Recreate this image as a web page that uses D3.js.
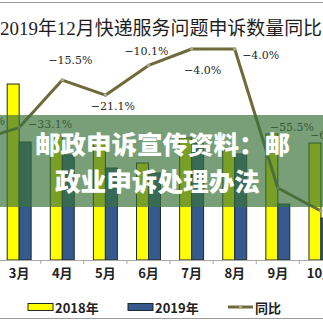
<!DOCTYPE html>
<html><head><meta charset="utf-8">
<script src="https://cdn.jsdelivr.net/npm/d3@7"></script>
<style>body{margin:0;background:#fff}svg{display:block}</style>
</head><body>
<script>
// ---- data ----
const months = ["2月","3月","4月","5月","6月","7月","8月","9月","10月"];
const seriesNames = ["2018年","2019年"];
const values2018 = [1500,1760,1240,1170,970,1220,1100,1260,1170];
const values2019 = [930,1180,1050,920,870,1170,1060,560,420];
const yoy = [-38.0,-33.1,-15.5,-21.1,-10.1,-4.0,-4.0,-55.5,-64.0];
const lineName = "同比";
const title = "2019年12月快递服务问题申诉数量同比图";
const bannerLines = ["邮政申诉宣传资料：邮","政业申诉处理办法"];

// ---- layout (label placement offsets) ----
const labelOffsets = [[29,-19,"end"],[31,-3,"middle"],[8,-20,"middle"],[7.5,11,"middle"],[-2,-14,"middle"],[11,21,"middle"],[26,6,"middle"],[14,-61,"middle"],[-11,-76,"start"]];

const W = 323, H = 323;
const svg = d3.select("body").append("svg").attr("width", W).attr("height", H)
  .style("background", "#fff");

const x = d3.scaleBand().domain(months).range([-45.5, 342.5]);
const xs = d3.scaleBand().domain(seriesNames).range([0, x.bandwidth()]).paddingOuter(0.8);
const y = d3.scaleLinear().domain([0, 2600]).range([260, 0]);
const yl = d3.scaleLinear().domain([0, -100]).range([38.2, 308.2]);
const colors = {"2018年": "#ffff00", "2019年": "#365a8e"};
const lineColor = "#6d6a3c";

// frame lines
svg.append("line").attr("x1",0).attr("x2",W).attr("y1",2.5).attr("y2",2.5).attr("stroke","#9a9a9a").attr("stroke-width",1.2);
svg.append("line").attr("x1",0).attr("x2",W).attr("y1",318.5).attr("y2",318.5).attr("stroke","#9a9a9a").attr("stroke-width",1.2);

// title
svg.append("text").attr("x", 0).attr("y", 35)
  .attr("textLength", 341).attr("lengthAdjust", "spacingAndGlyphs")
  .style("font-family", "'Liberation Serif','Noto Sans CJK SC'")
  .style("font-size", "19px").style("fill", "#1e1e1e")
  .text(title);

// bars
const rows = months.map((m, i) => ({m, vals: [values2018[i], values2019[i]]}));
const g = svg.append("g");
rows.forEach(r => {
  seriesNames.forEach((s, j) => {
    g.append("rect")
      .attr("x", x(r.m) + xs(s))
      .attr("y", y(r.vals[j]))
      .attr("width", xs.bandwidth())
      .attr("height", y(0) - y(r.vals[j]))
      .attr("fill", colors[s])
      .attr("stroke", "#1f2a2a").attr("stroke-width", 1);
  });
});

// axis
const axis = svg.append("g").attr("transform", "translate(0,260)")
  .call(d3.axisBottom(x).tickSize(0).tickPadding(9));
axis.select(".domain").attr("stroke", "#a8a8a8").attr("stroke-width", 1.2);
axis.selectAll(".tick").filter(d => x(d) + x.bandwidth()/2 < 0).remove();
axis.selectAll("text").style("font-family", "'Noto Sans CJK SC'").style("font-weight", "700")
  .style("font-size", "13px").style("fill", "#222");
months.forEach(m => {
  svg.append("line").attr("x1", x(m)).attr("x2", x(m)).attr("y1", 260).attr("y2", 264)
    .attr("stroke", "#a8a8a8");
});

// line
const pts = months.map((m, i) => [x(m) + x.bandwidth()/2, yl(yoy[i])]);
svg.append("path").attr("d", d3.line()(pts)).attr("fill", "none")
  .attr("stroke", lineColor).attr("stroke-width", 3).attr("stroke-linejoin", "round");
svg.selectAll(".mk").data(pts).enter().append("circle")
  .attr("cx", d => d[0]).attr("cy", d => d[1]).attr("r", 1.8).attr("fill", "#aaa88a");

// labels
const fmt = v => d3.format(".1f")(v).replace("-", "\u2212").replace("\u2212", "\u2212") + "%";
months.forEach((m, i) => {
  const o = labelOffsets[i];
  svg.append("text").attr("x", pts[i][0] + o[0]).attr("y", pts[i][1] + o[1])
    .attr("text-anchor", o[2]).attr("dominant-baseline", "central")
    .style("font-family", "'DejaVu Serif'").style("font-size", "11px").style("fill", "#2a2a2a")
    .text(fmt(yoy[i]));
});

// legend
const leg = svg.append("g");
const legItems = [
  {name: seriesNames[0], x: 28, type: "bar"},
  {name: seriesNames[1], x: 128, type: "bar"},
  {name: lineName, x: 228, type: "line"}
];
legItems.forEach(it => {
  if (it.type === "bar") {
    leg.append("rect").attr("x", it.x).attr("y", 303.5).attr("width", 25).attr("height", 7)
      .attr("fill", colors[it.name]).attr("stroke", "#1f2a2a").attr("stroke-width", 1);
  } else {
    leg.append("line").attr("x1", it.x).attr("x2", it.x + 25).attr("y1", 307).attr("y2", 307)
      .attr("stroke", lineColor).attr("stroke-width", 3);
    leg.append("circle").attr("cx", it.x + 12.5).attr("cy", 307).attr("r", 1.8).attr("fill", "#aaa88a");
  }
  leg.append("text").attr("x", it.x + 27).attr("y", 307).attr("dominant-baseline", "central")
    .style("font-family", "'Noto Sans CJK SC'").style("font-weight", "700").style("font-size", "13px")
    .style("fill", "#222").text(it.name);
});

// overlay banner
svg.append("rect").attr("x", 0).attr("y", 115).attr("width", W).attr("height", 92)
  .attr("fill", "rgb(58,114,58)").attr("opacity", 0.68);
const bannerPos = [[162.5, 143, 255], [157.5, 180, 205]];
bannerLines.forEach((t, i) => {
  svg.append("text").attr("x", bannerPos[i][0]).attr("y", bannerPos[i][1])
    .attr("text-anchor", "middle").attr("dominant-baseline", "central")
    .attr("textLength", bannerPos[i][2]).attr("lengthAdjust", "spacingAndGlyphs")
    .style("font-family", "'Noto Sans CJK SC'").style("font-weight", "900").style("font-size", "25px")
    .style("fill", "#fff").text(t);
});
</script>
</body></html>
